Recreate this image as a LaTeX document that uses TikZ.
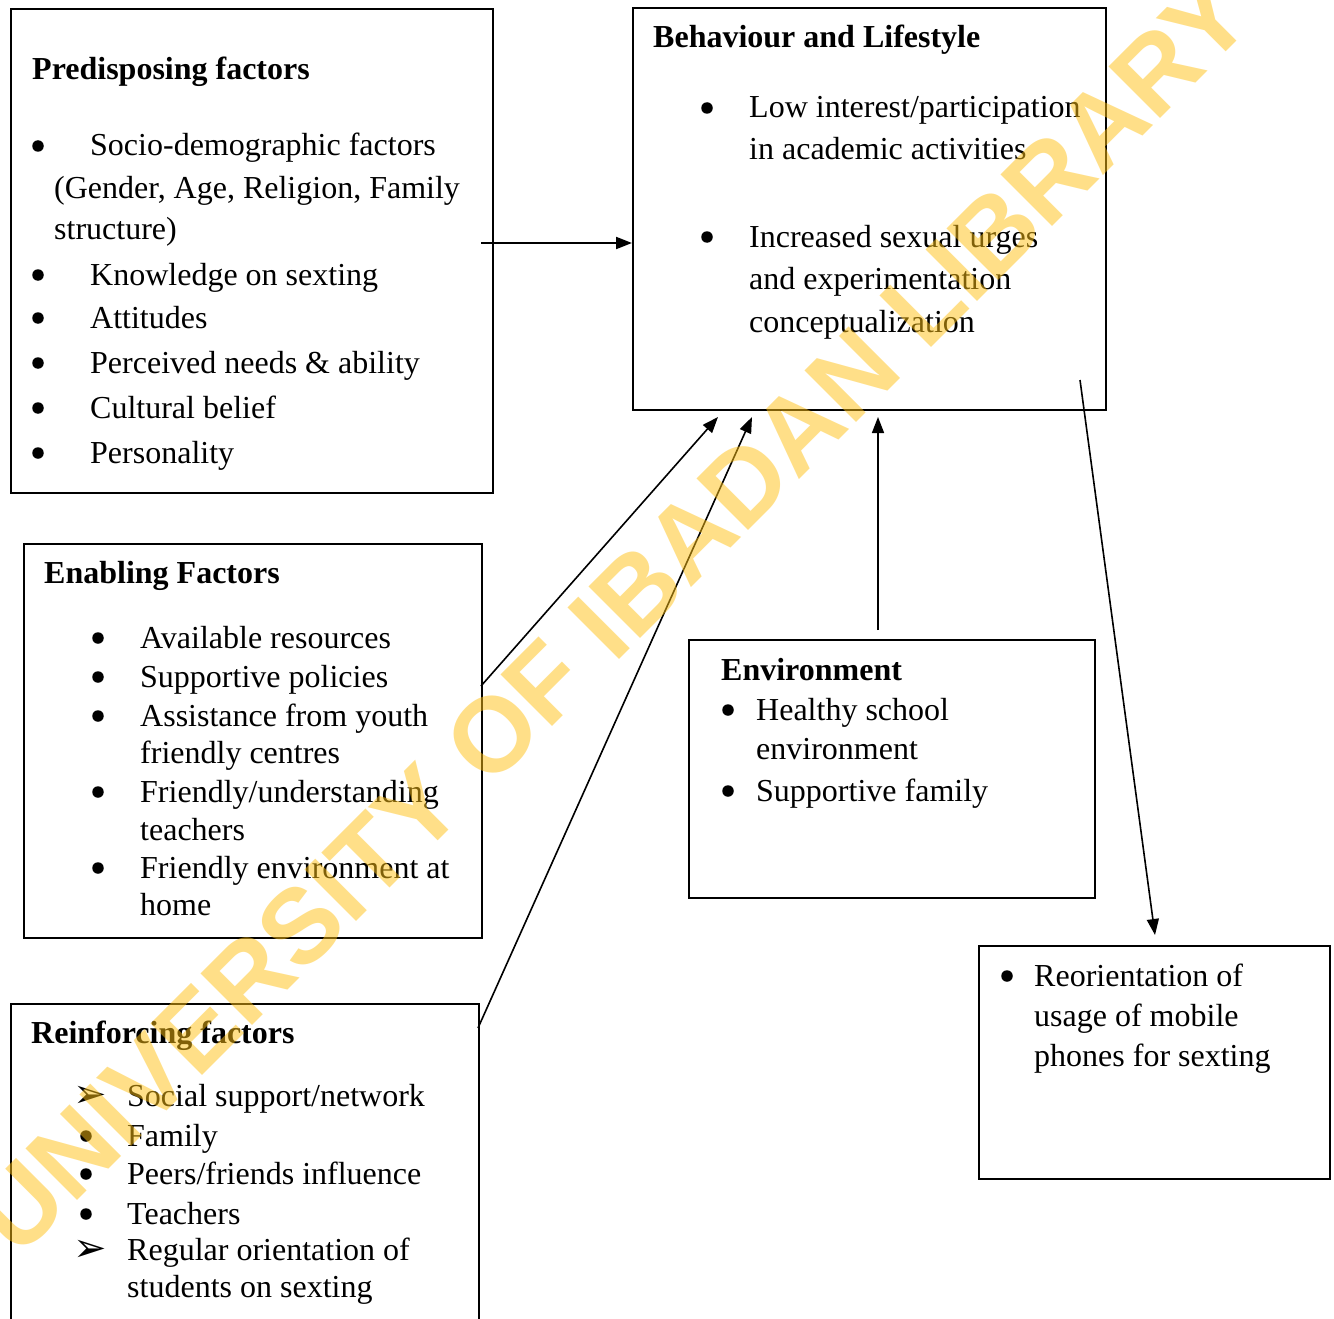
\documentclass[tikz,border=0pt]{standalone}
\usepackage{fontspec}
\setmainfont{Liberation Serif}
\newfontfamily\symfont{DejaVu Sans}
\newfontfamily\wmfont{Liberation Sans}
\usetikzlibrary{arrows.meta}
\definecolor{wmyellow}{RGB}{255,193,19}
\tikzset{
  box/.style={draw, line width=2pt, inner sep=0pt, anchor=north west},
  txt/.style={anchor=base west, inner sep=0pt, font=\fontsize{32}{38}\selectfont},
  ttl/.style={anchor=base west, inner sep=0pt, font=\fontsize{32}{38}\selectfont\bfseries},
  bul/.style={circle, fill, inner sep=0pt, minimum size=11.5pt},
  abul/.style={anchor=center, inner sep=0pt, font=\symfont\fontsize{40}{44}\selectfont},
  arr/.style={-{Triangle[length=16pt,width=12pt]}, line width=1.6pt},
  wm/.style={inner sep=0pt, text=wmyellow, text opacity=0.5, font=\wmfont\bfseries\fontsize{106}{106}\selectfont}
}
\begin{document}
\begin{tikzpicture}[x=1pt,y=-1pt]
\clip (0,0) rectangle (1334,1319);
\fill[white] (0,0) rectangle (1334,1319);

% boxes
\node[box, minimum width=482pt, minimum height=484pt] (pre) at (10,8) {};
\node[box, minimum width=473pt, minimum height=402pt] (beh) at (632,7) {};
\node[box, minimum width=458pt, minimum height=394pt] (ena) at (23,543) {};
\node[box, minimum width=468pt, minimum height=340pt] (rei) at (10,1003) {};
\node[box, minimum width=406pt, minimum height=258pt] (env) at (688,639) {};
\node[box, minimum width=351pt, minimum height=233pt] (reo) at (978,945) {};

% Predisposing
\node[ttl] (p0) at (32,80) {Predisposing factors};
\node[bul] (pb1) at (38,146) {};
\node[txt] (p1) at (90,156) {Socio-demographic factors};
\node[txt] (p1b) at (54,198) {(Gender, Age, Religion, Family};
\node[txt] (p1c) at (54,240) {structure)};
\node[bul] (pb2) at (38,275) {};
\node[txt] (p2) at (90,285) {Knowledge on sexting};
\node[bul] (pb3) at (38,318) {};
\node[txt] (p3) at (90,328) {Attitudes};
\node[bul] (pb4) at (38,363) {};
\node[txt] (p4) at (90,373) {Perceived needs \& ability};
\node[bul] (pb5) at (38,408) {};
\node[txt] (p5) at (90,418) {Cultural belief};
\node[bul] (pb6) at (38,453) {};
\node[txt] (p6) at (90,463) {Personality};

% Behaviour
\node[ttl] (b0) at (653,48) {Behaviour and Lifestyle};
\node[bul] (bb1) at (707,108) {};
\node[txt] (b1) at (749,118) {Low interest/participation};
\node[txt] (b1b) at (749,160) {in academic activities};
\node[bul] (bb2) at (707,237) {};
\node[txt] (b2) at (749,247) {Increased sexual urges};
\node[txt] (b2b) at (749,289) {and experimentation};
\node[txt] (b2c) at (749,332) {conceptualization};

% Enabling
\node[ttl] (e0) at (44,583) {Enabling Factors};
\node[bul] (eb1) at (98,638) {};
\node[txt] (e1) at (140,648) {Available resources};
\node[bul] (eb2) at (98,677) {};
\node[txt] (e2) at (140,687) {Supportive policies};
\node[bul] (eb3) at (98,716) {};
\node[txt] (e3) at (140,726) {Assistance from youth};
\node[txt] (e3b) at (140,763) {friendly centres};
\node[bul] (eb4) at (98,792) {};
\node[txt] (e4) at (140,802) {Friendly/understanding};
\node[txt] (e4b) at (140,840) {teachers};
\node[bul] (eb5) at (98,868) {};
\node[txt] (e5) at (140,878) {Friendly environment at};
\node[txt] (e5b) at (140,915) {home};

% Reinforcing
\node[ttl] (r0) at (31,1043) {Reinforcing factors};
\node[abul] (rb1) at (90,1097) {➢};
\node[txt] (r1) at (127,1106) {Social support/network};
\node[bul] (rb2) at (86,1136) {};
\node[txt] (r2) at (127,1146) {Family};
\node[bul] (rb3) at (86,1174) {};
\node[txt] (r3) at (127,1184) {Peers/friends influence};
\node[bul] (rb4) at (86,1214) {};
\node[txt] (r4) at (127,1224) {Teachers};
\node[abul] (rb5) at (90,1251) {➢};
\node[txt] (r5) at (127,1260) {Regular orientation of};
\node[txt] (r5b) at (127,1297) {students on sexting};

% Environment
\node[ttl] (v0) at (721,680) {Environment};
\node[bul] (vb1) at (728,710) {};
\node[txt] (v1) at (756,720) {Healthy school};
\node[txt] (v1b) at (756,759) {environment};
\node[bul] (vb2) at (728,791) {};
\node[txt] (v2) at (756,801) {Supportive family};

% Reorientation
\node[bul] (ob1) at (1007,976) {};
\node[txt] (o1) at (1034,986) {Reorientation of};
\node[txt] (o1b) at (1034,1026) {usage of mobile};
\node[txt] (o1c) at (1034,1066) {phones for sexting};

% connectors
\coordinate (preOut) at (481,243);
\draw[arr, line width=2pt] (preOut) -- (preOut -| beh.west);
\coordinate (behOut) at (1080,380);
\coordinate (reoIn) at (1155,935);
\draw[arr] (behOut) -- (reoIn);
\coordinate (enaOut) at (481,686);
\coordinate (behIn1) at (718,417);
\draw[arr] (enaOut) -- (behIn1);
\coordinate (reiOut) at (478,1028);
\coordinate (behIn2) at (752,417);
\draw[arr] (reiOut) -- (behIn2);
\coordinate (envOut) at (878,630);
\coordinate (behIn3) at (878,417);
\draw[arr] (envOut) -- (behIn3);

% watermark
\node[wm, rotate=45] (wmark) at (612,615) {UNIVERSITY OF IBADAN LIBRARY};
\end{tikzpicture}
\end{document}
